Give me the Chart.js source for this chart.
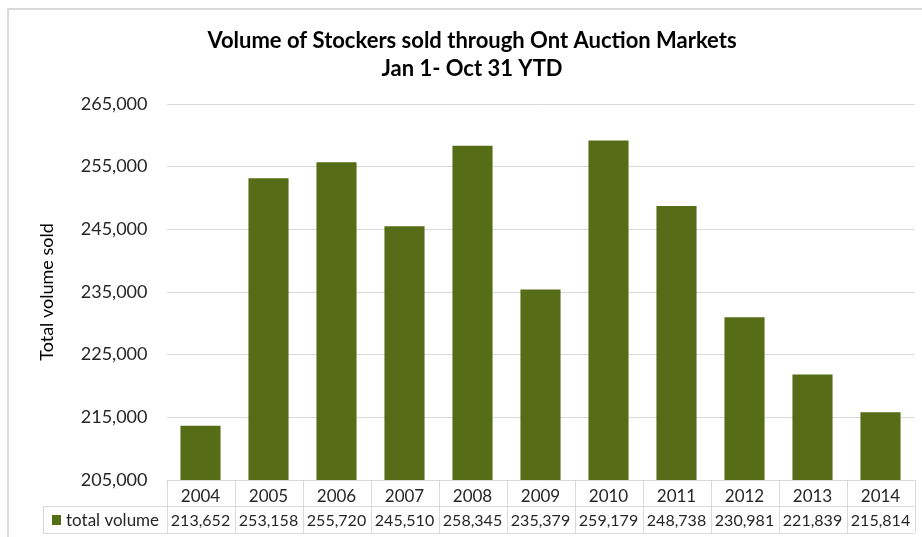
<!DOCTYPE html>
<html><head><meta charset="utf-8">
<script src="https://cdn.jsdelivr.net/npm/chart.js@4.4.0/dist/chart.umd.min.js"></script>
<style>html,body{margin:0;padding:0;background:#fff;}canvas{display:block;}</style>
</head><body>
<canvas id="c" width="922" height="537"></canvas>
<script>
const years = ['2004','2005','2006','2007','2008','2009','2010','2011','2012','2013','2014'];
const totalVolume = [213652,253158,255720,245510,258345,235379,259179,248738,230981,221839,215814];
const yMin = 205000, yMax = 265000, yStep = 10000;
const titleLines = ['Volume of Stockers sold through Ont Auction Markets','Jan 1- Oct 31 YTD'];
const seriesName = 'total volume';
const yTitle = 'Total volume sold';

const FONT = 'Lato, "Open Sans", sans-serif';
const BAR = '#566c16';
const LINE = '#d9d9d9';
const TXT = '#262626';
const fmt = v => Number(v).toLocaleString('en-US');

const tablePlugin = {
  id: 'tablePlugin',
  afterDraw(chart) {
    const ctx = chart.ctx, ca = chart.chartArea, xs = chart.scales.x;
    const top = ca.bottom, mid = 506, bot = 533, labelLeft = 43;
    ctx.save();
    // outer chart frame
    ctx.strokeStyle = LINE; ctx.lineWidth = 2;
    ctx.strokeRect(8, 9, 1000, 1000);
    // table grid
    ctx.lineWidth = 1; ctx.strokeStyle = LINE;
    const n = years.length;
    const colW = (ca.right - ca.left) / n;
    ctx.beginPath();
    ctx.moveTo(ca.left, top + 0.5); ctx.lineTo(ca.right, top + 0.5);
    ctx.moveTo(labelLeft, mid + 0.5); ctx.lineTo(ca.right, mid + 0.5);
    ctx.moveTo(labelLeft, bot + 0.5); ctx.lineTo(ca.right, bot + 0.5);
    ctx.moveTo(labelLeft + 0.5, mid); ctx.lineTo(labelLeft + 0.5, bot);
    for (let i = 0; i <= n; i++) {
      const x = Math.round(xs.getPixelForValue(Math.min(i, n - 1)) + (i === n ? colW / 2 : -colW / 2)) + 0.5;
      ctx.moveTo(x, top); ctx.lineTo(x, bot);
    }
    ctx.stroke();
    // data row
    ctx.fillStyle = TXT;
    ctx.font = '16px ' + FONT;
    ctx.textBaseline = 'middle';
    ctx.textAlign = 'center';
    totalVolume.forEach((v, i) => {
      ctx.fillText(fmt(v), xs.getPixelForValue(i), (mid + bot) / 2 + 1);
    });
    // legend key
    ctx.fillStyle = BAR;
    ctx.fillRect(52, 515, 9, 10);
    ctx.fillStyle = TXT;
    ctx.textAlign = 'left';
    ctx.font = '17px ' + FONT;
    ctx.fillText(seriesName, 66, (mid + bot) / 2 + 1);
    // title
    ctx.fillStyle = '#000';
    ctx.textAlign = 'center';
    ctx.font = 'bold 22px ' + FONT;
    const cx = 472;
    ctx.fillText(titleLines[0], cx, 41);
    ctx.fillText(titleLines[1], cx, 69);
    ctx.restore();
  }
};

new Chart(document.getElementById('c'), {
  type: 'bar',
  data: {
    labels: years,
    datasets: [{
      label: seriesName,
      data: totalVolume,
      backgroundColor: BAR,
      borderWidth: 0,
      categoryPercentage: 1,
      barPercentage: 0.59
    }]
  },
  options: {
    responsive: false,
    animation: false,
    devicePixelRatio: 1,
    layout: { padding: { top: 104, right: 7.5, bottom: 4, left: 0 } },
    plugins: { legend: { display: false }, title: { display: false }, tooltip: { enabled: false } },
    scales: {
      x: {
        grid: { display: false },
        border: { display: false },
        ticks: { color: TXT, font: { family: FONT, size: 17 }, padding: -2, maxRotation: 0 },
        afterFit(s) { s.height = 53; }
      },
      y: {
        min: yMin, max: yMax,
        grid: { color: LINE, lineWidth: 1, drawTicks: false },
        border: { display: false },
        ticks: { stepSize: yStep, color: TXT, font: { family: FONT, size: 18 }, padding: 19, callback: v => fmt(v) },
        title: { display: true, text: yTitle, color: '#000', font: { family: FONT, size: 18 }, padding: { top: 36, bottom: 0 } },
        afterFit(s) { s.width = 166.5; }
      }
    }
  },
  plugins: [tablePlugin]
});
</script>
</body></html>
